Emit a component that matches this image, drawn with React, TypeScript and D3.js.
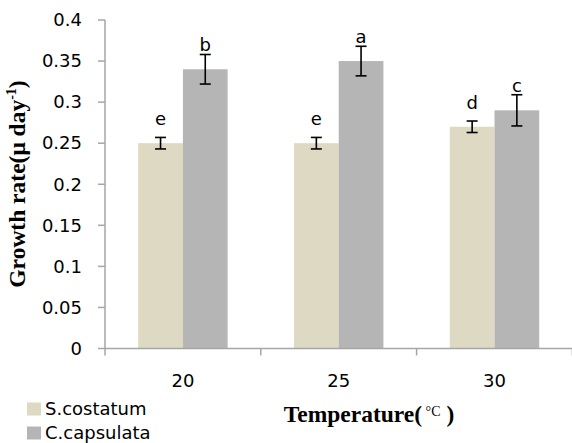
import * as d3 from 'd3'

const TEMPS = ['20', '25', '30']
const SERIES = ['S.costatum', 'C.capsulata']
const COLORS = ['#ddd9c3', '#b5b5b5']
const MEANS = [
  [0.25, 0.25, 0.27],
  [0.34, 0.35, 0.29],
]
const ERRORS = [
  [0.007, 0.007, 0.007],
  [0.018, 0.018, 0.019],
]
const LETTERS = [
  ['e', 'e', 'd'],
  ['b', 'a', 'c'],
]
const Y_TICKS = [0, 0.05, 0.1, 0.15, 0.2, 0.25, 0.3, 0.35, 0.4]

const W = 572
const H = 443
const left = 105
const right = 572.4
const top = 20
const bottom = 348.5

const sans = 'DejaVu Sans, sans-serif'
const serif = 'Liberation Serif, Times New Roman, serif'
const axisColor = '#a6a6a6'

export default function App() {
  const x0 = d3.scaleBand<string>().domain(TEMPS).range([left, right]).paddingInner(0.426).paddingOuter(0.213)
  const x1 = d3.scaleBand<number>().domain(SERIES.map((_, i) => i)).range([0, x0.bandwidth()])
  const y = d3.scaleLinear().domain([0, 0.4]).range([bottom, top])
  const step = x0.step()
  const fmt = (v: number) => String(+v.toFixed(2))

  return (
    <svg width={W} height={H} style={{ position: 'absolute', left: 0, top: 0, background: '#fff' }}>
      {/* bars */}
      {SERIES.map((s, si) =>
        TEMPS.map((t, ti) => (
          <rect
            key={s + t}
            x={x0(t)! + x1(si)!}
            y={y(MEANS[si][ti])}
            width={x1.bandwidth()}
            height={y(0) - y(MEANS[si][ti])}
            fill={COLORS[si]}
          />
        ))
      )}

      {/* error bars + letters */}
      {SERIES.map((s, si) =>
        TEMPS.map((t, ti) => {
          const cx = x0(t)! + x1(si)! + x1.bandwidth() / 2
          const m = MEANS[si][ti]
          const e = ERRORS[si][ti]
          const cap = 5.5
          return (
            <g key={'e' + s + t} stroke="#000" strokeWidth={1.6}>
              <line x1={cx} x2={cx} y1={y(m + e)} y2={y(m - e)} />
              <line x1={cx - cap} x2={cx + cap} y1={y(m + e)} y2={y(m + e)} />
              <line x1={cx - cap} x2={cx + cap} y1={y(m - e)} y2={y(m - e)} />
              <text
                x={cx}
                y={y(m) - 18}
                stroke="none"
                fill="#000"
                textAnchor="middle"
                fontFamily={sans}
                fontSize={18}
              >
                {LETTERS[si][ti]}
              </text>
            </g>
          )
        })
      )}

      {/* y axis */}
      <line x1={left} x2={left} y1={top} y2={bottom} stroke={axisColor} strokeWidth={1.5} />
      {Y_TICKS.map(v => (
        <g key={'yt' + v}>
          <line x1={left - 7} x2={left} y1={y(v)} y2={y(v)} stroke={axisColor} strokeWidth={1.5} />
          <text
            x={82}
            y={y(v)}
            dy="0.35em"
            textAnchor="end"
            fontFamily={sans}
            fontSize={18}
            fill="#000"
          >
            {fmt(v)}
          </text>
        </g>
      ))}

      {/* x axis */}
      <line x1={left} x2={right} y1={bottom} y2={bottom} stroke={axisColor} strokeWidth={1.5} />
      {[...TEMPS.map(t => x0(t)! - step * 0.213), right].map((xv, i) => (
        <line key={'xt' + i} x1={xv} x2={xv} y1={bottom} y2={bottom + 7} stroke={axisColor} strokeWidth={1.5} />
      ))}
      {TEMPS.map(t => (
        <text
          key={'xl' + t}
          x={x0(t)! + x0.bandwidth() / 2}
          y={387}
          textAnchor="middle"
          fontFamily={sans}
          fontSize={18}
          fill="#000"
        >
          {t}
        </text>
      ))}

      {/* axis titles */}
      <text
        transform={`translate(25,184) rotate(-90)`}
        textAnchor="middle"
        fontFamily={serif}
        fontWeight="bold"
        fontSize={23.5}
        fill="#000"
      >
        Growth rate(μ day
        <tspan fontSize={14} dy={-9}>-1</tspan>
        <tspan dy={9}>)</tspan>
      </text>
      <text
        x={369}
        y={422}
        textAnchor="middle"
        fontFamily={serif}
        fontWeight="bold"
        fontSize={23.5}
        fill="#000"
      >
        Temperature(
        <tspan fontSize={14} fontWeight="normal" dy={-6}> °C</tspan>
        <tspan dy={6}> )</tspan>
      </text>

      {/* legend */}
      {SERIES.map((s, i) => (
        <g key={'lg' + s}>
          <rect x={27} y={402.5 + i * 24} width={14} height={13} fill={COLORS[i]} />
          <text x={45} y={415 + i * 23.5} fontFamily={sans} fontSize={18} fill="#000">
            {s}
          </text>
        </g>
      ))}
    </svg>
  )
}
